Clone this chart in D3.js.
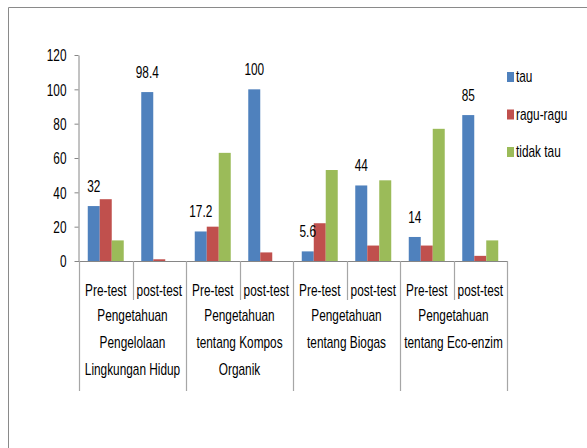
<!DOCTYPE html>
<html>
<head>
<meta charset="utf-8">
<script src="https://cdn.jsdelivr.net/npm/d3@7"></script>
<style>
  html, body { margin: 0; padding: 0; background: #fff; }
  svg { display: block; }
  text { font-family: "Liberation Sans", Arial, sans-serif; fill: #000; }
</style>
</head>
<body>
<svg id="chart" width="587" height="448"></svg>
<script>
// Topics (outer category level), each with a pre-test and a post-test
const topics = [
  ["Pengetahuan", "Pengelolaan", "Lingkungan Hidup"],
  ["Pengetahuan", "tentang Kompos", "Organik"],
  ["Pengetahuan", "tentang Biogas"],
  ["Pengetahuan", "tentang Eco-enzim"]
];
const tests = ["Pre-test", "post-test"];

// Series names and values (percent), in order of the 8 test columns
const seriesNames = ["tau", "ragu-ragu", "tidak tau"];
const tauValues    = [32, 98.4, 17.2, 100, 5.6, 44, 14, 85];
const raguValues   = [36, 1, 20, 5, 22, 9, 9, 3];
const tidakValues  = [12, 0, 63, 0, 53, 47, 77, 12];
const seriesColors = ["#4F81BD", "#C0504D", "#9BBB59"];

const yTicks = [0, 20, 40, 60, 80, 100, 120];

const svg = d3.select("#chart");
const SX = 0.74;      // horizontal squeeze for the narrow label face
const FS = 16;

function label(g, x, y, str, anchor) {
  return g.append("text")
    .attr("transform", `translate(${x},${y}) scale(${SX},1)`)
    .attr("text-anchor", anchor || "middle")
    .style("font-size", FS + "px")
    .text(str);
}

// outer frame
svg.append("path")
  .attr("d", "M8.5,448 V7.5 H587")
  .attr("fill", "none")
  .attr("stroke", "#8a8a8a")
  .attr("stroke-width", 1);

// columns: one per topic/test pair
const columns = [];
topics.forEach((t, i) => tests.forEach((s, j) => columns.push({ topic: i, test: s, key: i + "-" + j })));

const x = d3.scaleBand().domain(columns.map(c => c.key)).range([79, 507]);
const y = d3.scaleLinear().domain([0, 120]).range([261, 55]);
const xs = d3.scaleBand().domain(seriesNames).range([0, x.bandwidth()]).paddingOuter(0.73);

const seriesData = [tauValues, raguValues, tidakValues];

// bars
const gBars = svg.append("g");
seriesNames.forEach((name, si) => {
  gBars.selectAll(null)
    .data(columns.map((c, ci) => ({ key: c.key, v: seriesData[si][ci] })))
    .join("rect")
    .attr("x", d => x(d.key) + xs(name))
    .attr("width", xs.bandwidth())
    .attr("y", d => y(d.v))
    .attr("height", d => y(0) - y(d.v))
    .attr("fill", seriesColors[si]);
});

// y axis
const yAxis = d3.axisLeft(y).tickValues(yTicks).tickSize(4).tickSizeOuter(0).tickPadding(8);
const gy = svg.append("g").attr("transform", "translate(78.5,0)").call(yAxis);
gy.select(".domain").attr("stroke", "#868686");
gy.selectAll(".tick line").attr("stroke", "#868686");
gy.selectAll(".tick text")
  .attr("font-family", null)
  .attr("font-size", null)
  .style("font-size", FS + "px")
  .attr("dy", "0.36em")
  .attr("transform", function () {
    const xx = +d3.select(this).attr("x");
    return `translate(${xx},0) scale(${SX},1)`;
  })
  .attr("x", 0);

// x axis baseline
svg.append("line")
  .attr("x1", 78).attr("x2", 507.5)
  .attr("y1", y(0) + 0.5).attr("y2", y(0) + 0.5)
  .attr("stroke", "#868686");

// separators between tests and between topics
const gSep = svg.append("g").attr("stroke", "#a6a6a6").attr("stroke-width", 1.2);
columns.forEach((c, ci) => {
  const major = ci % 2 === 0;
  gSep.append("line")
    .attr("x1", Math.round(x(c.key)) + 0.5).attr("x2", Math.round(x(c.key)) + 0.5)
    .attr("y1", y(0)).attr("y2", major ? 391 : 300);
});
gSep.append("line")
  .attr("x1", 507.5).attr("x2", 507.5)
  .attr("y1", y(0)).attr("y2", 391);

// test labels
const gLab = svg.append("g");
columns.forEach(c => {
  label(gLab, x(c.key) + x.bandwidth() / 2, 296, c.test);
});

// topic labels
topics.forEach((lines, i) => {
  const cx = x(i + "-0") + x.bandwidth();
  lines.forEach((ln, k) => label(gLab, cx, 321 + k * 27, ln));
});

// value labels over the "tau" bars
columns.forEach((c, ci) => {
  const v = tauValues[ci];
  label(gLab, x(c.key) + xs("tau") + xs.bandwidth() / 2, y(v) - 14, String(v));
});

// legend
const gLeg = svg.append("g");
seriesNames.forEach((name, si) => {
  const ty = 72 + si * 37.5;
  gLeg.append("rect")
    .attr("x", 507).attr("y", ty)
    .attr("width", 7).attr("height", 10)
    .attr("fill", seriesColors[si]);
  label(gLeg, 516, ty + 10, name, "start");
});
</script>
</body>
</html>
